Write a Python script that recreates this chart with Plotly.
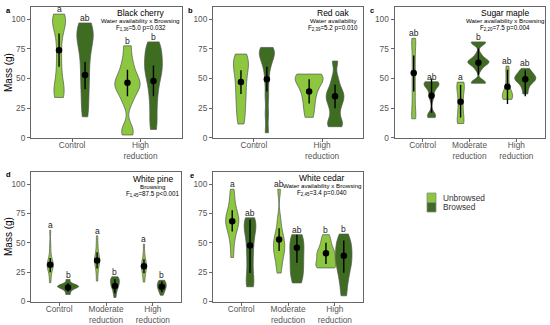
import plotly.graph_objects as go

W, H = 550, 325

# ---------------- data ----------------
treat_2 = ["Control", "High<br>reduction"]
treat_3 = ["Control", "Moderate<br>reduction", "High<br>reduction"]
groups = ["Unbrowsed", "Browsed"]

species = ["Black cherry", "Red oak", "Sugar maple", "White pine", "White cedar"]
tags = ["a", "b", "c", "d", "e"]
effects = ["Water availability x Browsing", "Water availability",
           "Water availability x Browsing", "Browsing",
           "Water availability x Browsing"]
stats = ["F<sub>1,36</sub>=5.0 p=0.032", "F<sub>2,39</sub>=5.2 p=0.010",
         "F<sub>2,20</sub>=7.5 p=0.004", "F<sub>1,45</sub>=87.5 p<0.001",
         "F<sub>2,45</sub>=3.4 p=0.040"]

# estimated individual seedling masses (g), per treatment
cherry_unbrowsed = [[34, 37, 42, 50, 62, 75, 88, 95, 99, 102, 104.5],
                    [2.3, 8, 30, 38, 42, 45, 48, 52, 58, 66, 77.7]]
cherry_browsed = [[17.7, 30, 42, 52, 62, 72, 80, 85, 89, 93, 97],
                  [7, 18, 30, 40, 48, 54, 58, 62, 67, 72, 77, 81]]
oak_unbrowsed = [[11.6, 20, 28, 35, 42, 48, 55, 60, 64, 67, 70.7],
                 [17.2, 25, 32, 38, 43, 47, 50, 52, 53, 53.8]]
oak_browsed = [[4.2, 20, 35, 48, 58, 64, 68, 71, 73, 75, 76.3],
               [9.3, 11, 14, 22, 28, 32, 35, 38, 42, 50, 64.8]]
maple_unbrowsed = [[16, 16.5, 17, 22, 27, 32, 37, 42, 47, 52, 57, 62, 67, 72, 77, 82, 83.5, 84],
                   [12, 12.5, 13, 18, 23, 28, 33, 38, 42, 45, 46.5, 47],
                   [32.4, 33, 34, 35, 36, 38, 40, 44, 50, 56, 60.6]]
maple_browsed = [[17, 18.5, 20, 33, 38, 42, 44, 45, 46, 47, 47.3],
                 [46, 46.5, 47, 58, 62, 63, 64, 65, 66, 70, 80, 80.5, 81],
                 [37, 42, 46, 48, 49, 50, 51, 52, 54, 56, 58.6]]
pine_unbrowsed = [[16, 22, 27, 29, 30, 31, 32, 33, 35, 40, 48, 60.8],
                  [17.4, 25, 30, 33, 35, 36, 38, 42, 48, 56],
                  [16.5, 22, 26, 28, 30, 31, 32, 35, 40, 49]]
pine_browsed = [[6, 9, 11, 12, 12.5, 13, 13, 14, 15, 18.7],
                [3.4, 8, 11, 13, 14, 15, 17, 18, 19, 20, 21],
                [5.3, 8, 10, 11, 12, 13, 14, 15, 16, 17, 18]]
cedar_unbrowsed = [[37.5, 50, 58, 63, 66, 68, 70, 72, 75, 80, 88, 95.8],
                   [24.2, 32, 38, 42, 45, 48, 52, 55, 60, 70, 95.8],
                   [28.6, 29, 30, 32, 35, 38, 40, 42, 44, 48, 52, 57]]
cedar_browsed = [[12.5, 15, 22, 30, 38, 45, 52, 58, 62, 66, 69, 71.4],
                 [15.8, 20, 25, 30, 35, 40, 45, 50, 54, 57],
                 [4.8, 15, 22, 28, 32, 36, 40, 44, 48, 52, 57.5]]

# estimated means and error-bar limits (g), [unbrowsed, browsed] per treatment
cherry_mean = [[74, 53], [46.5, 48]]
cherry_lo = [[60, 41], [35, 35]]
cherry_hi = [[88, 64], [57.5, 61]]
oak_mean = [[47, 49.5], [39, 35]]
oak_lo = [[37, 39], [29, 25]]
oak_hi = [[57, 60], [49.5, 45]]
maple_mean = [[54.8, 35.5], [30.4, 63.4], [43.1, 49.5]]
maple_lo = [[39, 21], [17, 53], [28.5, 35]]
maple_hi = [[69.5, 50], [44.5, 75.5], [57.5, 57]]
pine_mean = [[31.2, 11.9], [35, 13.2], [30, 12.5]]
pine_lo = [[25, 8.5], [28, 7], [24, 8]]
pine_hi = [[37, 15.5], [42, 19], [36, 17]]
cedar_mean = [[68.5, 47.8], [52.8, 45.8], [41.1, 38.9]]
cedar_lo = [[59.7, 24.2], [43, 33], [32, 24.5]]
cedar_hi = [[77.8, 70], [62.5, 57], [50, 52]]

# significance letters [unbrowsed, browsed] per treatment
cherry_letters = [["a", "ab"], ["b", "b"]]
oak_letters = [["", ""], ["", ""]]
maple_letters = [["ab", "ab"], ["a", "b"], ["ab", "ab"]]
pine_letters = [["a", "b"], ["a", "b"], ["a", "b"]]
cedar_letters = [["a", "ab"], ["ab", "ab"], ["b", "b"]]

y_ticks = [0, 25, 50, 75, 100]

# ---------------- styles ----------------
fill = {"Unbrowsed": "#8dc63f", "Browsed": "#3e6d22"}
outline = "#555555"
dodge = 0.19
# violin max widths (axis units) and kernel bandwidths, per treatment [U, B]
cherry_w = [[0.19, 0.24], [0.37, 0.26]]
cherry_bw = [[8, 10], [6, 8]]
oak_w = [[0.22, 0.22], [0.41, 0.26]]
oak_bw = [[8, 6], [6, 5]]
maple_w = [[0.09, 0.32], [0.16, 0.45], [0.22, 0.45]]
maple_bw = [[6, 3], [6, 2.5], [4, 3]]
pine_w = [[0.13, 0.45], [0.11, 0.19], [0.11, 0.19]]
pine_bw = [[4, 1.5], [4, 3], [4, 3]]
cedar_w = [[0.28, 0.25], [0.24, 0.3], [0.43, 0.35]]
cedar_bw = [[7, 7], [6, 8], [4, 6]]

# panel boxes in pixels: (left, right, top, bottom)
boxes = [(31, 181.5, 7, 138.3), (213, 363, 7, 138.3), (394.5, 544.5, 7, 138.3),
         (31, 181, 172, 302), (213, 363, 172, 302)]

panels = [
    (treat_2, cherry_unbrowsed, cherry_browsed, cherry_mean, cherry_lo, cherry_hi, cherry_letters, cherry_w, cherry_bw),
    (treat_2, oak_unbrowsed, oak_browsed, oak_mean, oak_lo, oak_hi, oak_letters, oak_w, oak_bw),
    (treat_3, maple_unbrowsed, maple_browsed, maple_mean, maple_lo, maple_hi, maple_letters, maple_w, maple_bw),
    (treat_3, pine_unbrowsed, pine_browsed, pine_mean, pine_lo, pine_hi, pine_letters, pine_w, pine_bw),
    (treat_3, cedar_unbrowsed, cedar_browsed, cedar_mean, cedar_lo, cedar_hi, cedar_letters, cedar_w, cedar_bw),
]

# text placements in pixels
title_pos = [(140.5, 13), (333, 13), (505, 13), (152.5, 178.5), (322, 178)]
tag_pos = [(4, 10), (186, 10), (368, 10), (4, 174), (188, 175)]
ylabel_pos = [(8, 73), (8, 237)]
legend_box = (427, 193, 9, 9.5)  # left, top, swatch width, swatch height

FONT = "Liberation Sans, Arial, sans-serif"


def px(x, y):
    return x / W, 1 - y / H


fig = go.Figure()
annotations = []
shapes = []
layout_axes = {}

for i, (cats, s_u, s_b, mean, lo, hi, letters, wid, bw) in enumerate(panels):
    n = i + 1
    xa = "x" if n == 1 else f"x{n}"
    ya = "y" if n == 1 else f"y{n}"
    l, r, t, b = boxes[i]
    ncat = len(cats)
    layout_axes[f"xaxis{n}"] = dict(
        domain=[l / W, r / W], range=[0.4, ncat + 0.6], anchor=ya, automargin=False,
        tickmode="array", tickvals=list(range(1, ncat + 1)), ticktext=cats,
        showline=True, linecolor="#666", linewidth=1, mirror=True,
        ticks="outside", ticklen=3, tickcolor="#666", tickwidth=1,
        ticklabelstandoff=-4,
        showgrid=False, zeroline=False, fixedrange=True,
        tickfont=dict(family=FONT, size=8.3, color="#555"))
    layout_axes[f"yaxis{n}"] = dict(
        domain=[1 - b / H, 1 - t / H], range=[-0.5, 110.5], anchor=xa, automargin=False,
        tickmode="array", tickvals=y_ticks,
        showline=True, linecolor="#666", linewidth=1, mirror=True,
        ticks="outside", ticklen=3, tickcolor="#666", tickwidth=1,
        showgrid=False, zeroline=False, fixedrange=True,
        tickfont=dict(family=FONT, size=8.3, color="#555"))

    for ci in range(ncat):
        for gi, g in enumerate(groups):
            samples = (s_u if gi == 0 else s_b)[ci]
            pos = ci + 1 + (-dodge if gi == 0 else dodge)
            fig.add_trace(go.Violin(
                x0=pos, y=samples, xaxis=xa, yaxis=ya, name=g,
                legendgroup=g, showlegend=False,
                width=wid[ci][gi], bandwidth=bw[ci][gi], spanmode="hard",
                points=False, fillcolor=fill[g], opacity=1,
                line=dict(color=outline, width=0.7),
                box_visible=False, meanline_visible=False, hoverinfo="skip"))
            m = mean[ci][gi]
            fig.add_trace(go.Scatter(
                x=[pos], y=[m], xaxis=xa, yaxis=ya, mode="markers",
                showlegend=False, hoverinfo="skip",
                marker=dict(color="black", size=6.5),
                error_y=dict(type="data", symmetric=False,
                             array=[hi[ci][gi] - m], arrayminus=[m - lo[ci][gi]],
                             color="black", thickness=1.4, width=0)))
            if letters[ci][gi]:
                annotations.append(dict(
                    x=pos, y=max(samples), xref=xa, yref=ya, text=letters[ci][gi],
                    showarrow=False, yanchor="bottom", yshift=-2,
                    font=dict(family=FONT, size=8.5, color="#222")))

    # species title block
    tx, ty = title_pos[i]
    for k, (txt, size, dy) in enumerate([(species[i], 8.5, 0), (effects[i], 6.2, 7.8), (stats[i], 6.3, 15.3)]):
        x_, y_ = px(tx, ty + dy)
        annotations.append(dict(x=x_, y=y_, xref="paper", yref="paper", text=txt,
                                showarrow=False, xanchor="center", yanchor="middle",
                                font=dict(family=FONT, size=size, color="#000")))
    # panel tag
    x_, y_ = px(*tag_pos[i])
    annotations.append(dict(x=x_, y=y_, xref="paper", yref="paper", text=f"<b>{tags[i]}</b>",
                            showarrow=False, xanchor="left", yanchor="middle",
                            font=dict(family=FONT, size=7.5, color="black")))

for (x, y) in ylabel_pos:
    x_, y_ = px(x, y)
    annotations.append(dict(x=x_, y=y_, xref="paper", yref="paper", text="Mass (g)",
                            showarrow=False, textangle=-90, xanchor="center", yanchor="middle",
                            font=dict(family=FONT, size=10, color="black")))

# legend: stacked colour keys with labels
lx0, ly0, sw, sh = legend_box
for gi, g in enumerate(groups):
    x0, y0 = px(lx0, ly0 + gi * sh)
    x1, y1 = px(lx0 + sw, ly0 + (gi + 1) * sh)
    shapes.append(dict(type="rect", xref="paper", yref="paper", x0=x0, y0=y1, x1=x1, y1=y0,
                       fillcolor=fill[g], line=dict(color="#8a8a8a", width=0.8)))
    tx_, ty_ = px(lx0 + sw + 5, ly0 + (gi + 0.5) * sh)
    annotations.append(dict(x=tx_, y=ty_, xref="paper", yref="paper", text=g,
                            showarrow=False, xanchor="left", yanchor="middle",
                            font=dict(family=FONT, size=8.3, color="#333")))

fig.update_layout(
    width=W, height=H, margin=dict(l=0, r=0, t=0, b=0, autoexpand=False),
    paper_bgcolor="white", plot_bgcolor="white", showlegend=False,
    violinmode="overlay", annotations=annotations, shapes=shapes,
    **layout_axes)

fig.write_html("out.html", config={"displayModeBar": False},
               post_script="document.body.style.margin='0';document.body.style.overflow='hidden';")
